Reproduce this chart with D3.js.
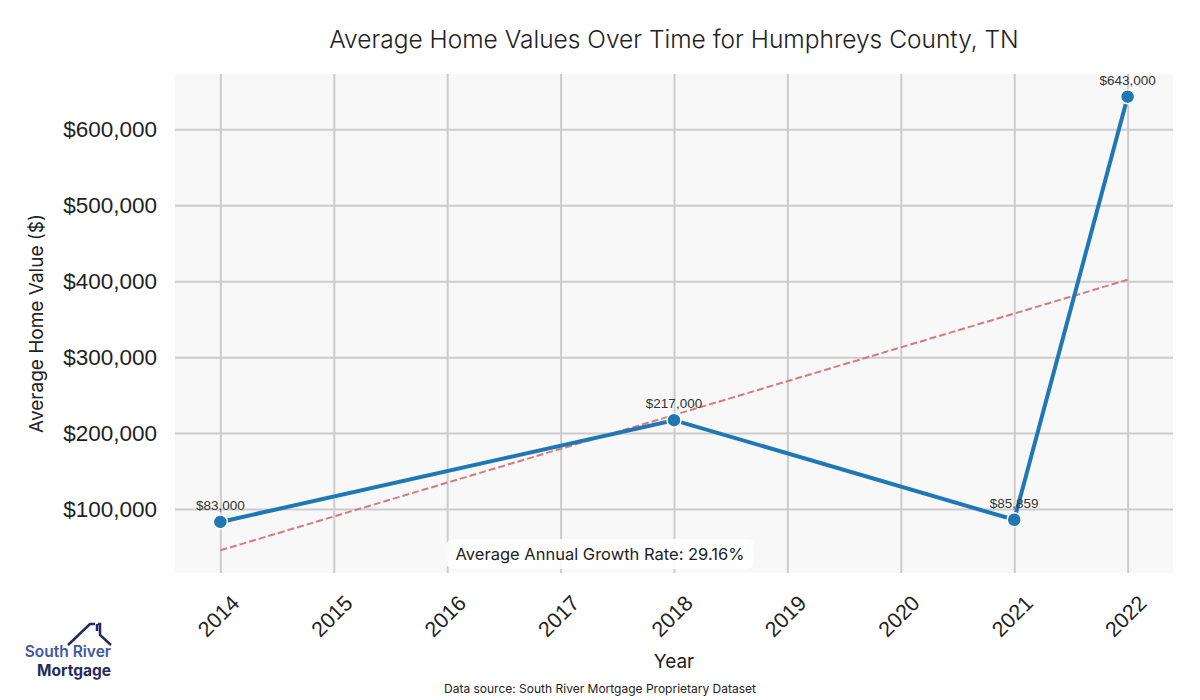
<!DOCTYPE html>
<html>
<head>
<meta charset="utf-8">
<script src="https://cdn.jsdelivr.net/npm/d3@7"></script>
<style>
  body { margin: 0; background: #fff; }
  text { font-family: "Inter", "Lato", sans-serif; }
</style>
</head>
<body>
<script>
  //data
  var years = [2014, 2018, 2021, 2022];
  var homeValues = [83000, 217000, 85859, 643000];
  var valueLabels = ["$83,000", "$217,000", "$85,859", "$643,000"];
  var tickYears = [2014, 2015, 2016, 2017, 2018, 2019, 2020, 2021, 2022];
  var yTicks = [100000, 200000, 300000, 400000, 500000, 600000];
  var growthText = "Average Annual Growth Rate: 29.16%";

  var w = 1200; //svg width
  var h = 700; //svg height
  var plot = { left: 175, top: 74, right: 1173, bottom: 573 };

  //least squares trend line through the data points
  var mx = d3.mean(years), my = d3.mean(homeValues);
  var sxy = d3.sum(years, function(d, i) { return (d - mx) * (homeValues[i] - my); });
  var sxx = d3.sum(years, function(d) { return (d - mx) * (d - mx); });
  var slope = sxy / sxx;
  var trend = [years[0], years[years.length - 1]].map(function(yr) {
      return { year: yr, value: my + slope * (yr - mx) };
  });

  //SCALES
  var yMin = Math.min(d3.min(homeValues), trend[0].value);
  var yMax = Math.max(d3.max(homeValues), trend[1].value);
  var yPad = (yMax - yMin) * 0.05;
  var xPad = (2022 - 2014) * 0.05;

  var x = d3.scaleLinear()
      .domain([2014 - xPad, 2022 + xPad])
      .range([plot.left, plot.right]);

  var y = d3.scaleLinear()
      .domain([yMin - yPad, yMax + yPad])
      .range([plot.bottom, plot.top]);

  var svg = d3.select("body")
      .append("svg")
      .attr("width", w)
      .attr("height", h);

  //background
  svg.append("rect")
      .attr("x", plot.left)
      .attr("y", plot.top)
      .attr("width", plot.right - plot.left)
      .attr("height", plot.bottom - plot.top)
      .attr("fill", "#f8f8f8");

  //GRID
  svg.append("g")
      .attr("transform", "translate(0," + plot.bottom + ")")
      .call(d3.axisBottom(x).tickValues(tickYears).tickSize(-(plot.bottom - plot.top)).tickFormat(""))
      .call(function(g) {
          g.select(".domain").remove();
          g.selectAll("line").attr("stroke", "#cccccc").attr("stroke-width", 2);
      });

  svg.append("g")
      .attr("transform", "translate(" + plot.left + ",0)")
      .call(d3.axisLeft(y).tickValues(yTicks).tickSize(-(plot.right - plot.left)).tickFormat(""))
      .call(function(g) {
          g.select(".domain").remove();
          g.selectAll("line").attr("stroke", "#cccccc").attr("stroke-width", 2);
      });

  //tick labels
  svg.selectAll(".ylab")
      .data(yTicks)
      .enter()
      .append("text")
      .attr("class", "ylab")
      .attr("x", 157)
      .attr("y", function(d) { return y(d); })
      .attr("dy", "0.35em")
      .attr("text-anchor", "end")
      .attr("fill", "#222")
      .style("font-family", "'Liberation Sans', Arial, sans-serif")
      .style("font-size", "22.5px")
      .text(d3.format("$,"));

  svg.selectAll(".xlab")
      .data(tickYears)
      .enter()
      .append("text")
      .attr("class", "xlab")
      .attr("transform", function(d) { return "translate(" + (x(d) - 2) + ",616) rotate(-45)"; })
      .attr("dy", "0.35em")
      .attr("text-anchor", "middle")
      .attr("fill", "#222")
      .style("font-family", "'Liberation Sans', Arial, sans-serif")
      .style("font-size", "21.5px")
      .text(function(d) { return d; });

  //TREND
  svg.append("line")
      .attr("x1", x(trend[0].year))
      .attr("y1", y(trend[0].value))
      .attr("x2", x(trend[1].year))
      .attr("y2", y(trend[1].value))
      .attr("stroke", "#d9797b")
      .attr("stroke-width", 2)
      .attr("stroke-dasharray", "7,3");

  //LINE
  var line = d3.line()
      .x(function(d, i) { return x(years[i]); })
      .y(function(d) { return y(d); });

  svg.append("path")
      .datum(homeValues)
      .attr("d", line)
      .attr("fill", "none")
      .attr("stroke", "#1f77b4")
      .attr("stroke-width", 4);

  svg.selectAll(".dot")
      .data(homeValues)
      .enter()
      .append("circle")
      .attr("class", "dot")
      .attr("cx", function(d, i) { return x(years[i]); })
      .attr("cy", function(d) { return y(d); })
      .attr("r", 7)
      .attr("fill", "#1f77b4")
      .attr("stroke", "#fff")
      .attr("stroke-width", 1.5);

  svg.selectAll(".vlab")
      .data(homeValues)
      .enter()
      .append("text")
      .attr("class", "vlab")
      .attr("x", function(d, i) { return x(years[i]); })
      .attr("y", function(d) { return y(d) - 12; })
      .attr("text-anchor", "middle")
      .attr("fill", "#333")
      .style("font-family", "'Liberation Sans', Arial, sans-serif")
      .style("font-size", "13.5px")
      .text(function(d, i) { return valueLabels[i]; });

  //growth annotation
  svg.append("rect")
      .attr("x", 446)
      .attr("y", 539)
      .attr("width", 308)
      .attr("height", 30)
      .attr("rx", 7)
      .attr("fill", "#fff")
      .attr("fill-opacity", 0.85);

  svg.append("text")
      .attr("x", 600)
      .attr("y", 554)
      .attr("dy", "0.35em")
      .attr("text-anchor", "middle")
      .attr("fill", "#222")
      .style("font-size", "16.5px")
      .text(growthText);

  //TITLES
  svg.append("text")
      .attr("x", (plot.left + plot.right) / 2)
      .attr("y", 48)
      .attr("text-anchor", "middle")
      .attr("fill", "#222")
      .style("font-size", "24.5px")
      .style("font-weight", "300")
      .text("Average Home Values Over Time for Humphreys County, TN");

  svg.append("text")
      .attr("x", (plot.left + plot.right) / 2)
      .attr("y", 668)
      .attr("text-anchor", "middle")
      .attr("fill", "#222")
      .style("font-size", "19px")
      .text("Year");

  svg.append("text")
      .attr("transform", "translate(43," + ((plot.top + plot.bottom) / 2) + ") rotate(-90)")
      .attr("text-anchor", "middle")
      .attr("fill", "#222")
      .style("font-size", "19px")
      .text("Average Home Value ($)");

  svg.append("text")
      .attr("x", 600)
      .attr("y", 693)
      .attr("text-anchor", "middle")
      .attr("fill", "#222")
      .style("font-size", "12px")
      .text("Data source: South River Mortgage Proprietary Dataset");

  //LOGO
  var logo = svg.append("g");
  logo.append("path")
      .attr("d", "M68,645 L90,624 L95,624 M98,624 L100,624 L100,635 L111,645 M97,624 L97,631")
      .attr("fill", "none")
      .attr("stroke", "#252a5e")
      .attr("stroke-width", 2.5);
  logo.append("text")
      .attr("x", 111)
      .attr("y", 657)
      .attr("text-anchor", "end")
      .attr("fill", "#4256a6")
      .style("font-size", "15.5px")
      .style("font-weight", "600")
      .text("South River");
  logo.append("text")
      .attr("x", 111)
      .attr("y", 676)
      .attr("text-anchor", "end")
      .attr("fill", "#252a5e")
      .style("font-size", "15.5px")
      .style("font-weight", "700")
      .text("Mortgage");
</script>
</body>
</html>
